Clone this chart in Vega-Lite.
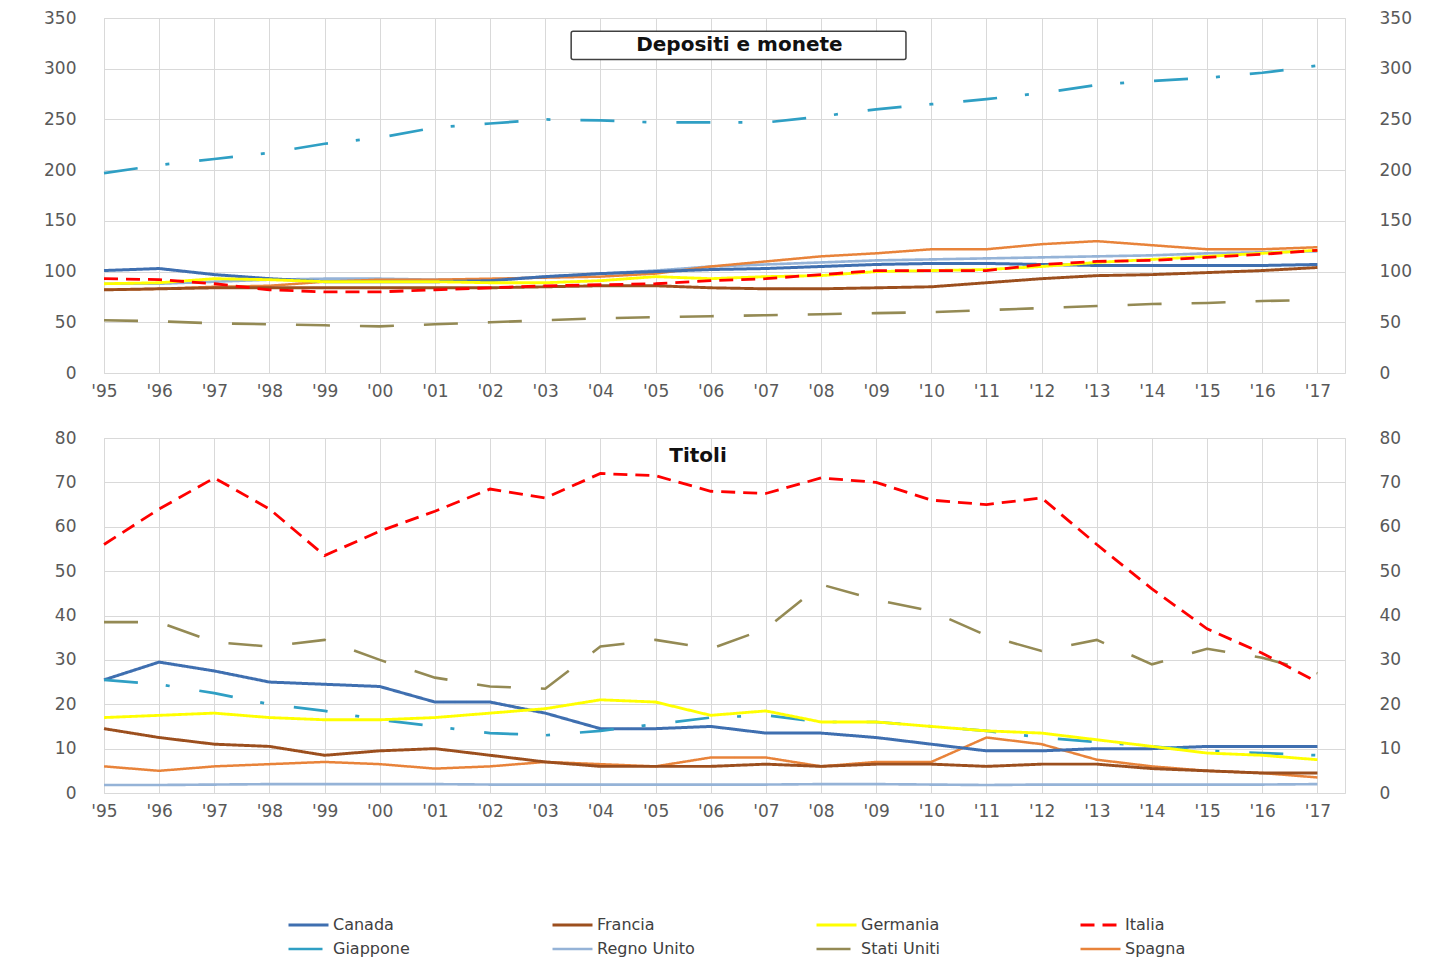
{
  "$schema": "https://vega.github.io/schema/vega-lite/v6.json",
  "background": "white",
  "padding": {"left": 43, "top": 8, "right": 5, "bottom": 0},
  "datasets": {
    "dep": [
      {"Anno": 1995, "Canada": 101, "Francia": 82, "Germania": 88, "Italia": 93, "Giappone": 197, "Regno Unito": 88, "Stati Uniti": 52, "Spagna": 82},
      {"Anno": 1996, "Canada": 103, "Francia": 83, "Germania": 89, "Italia": 92, "Giappone": 205, "Regno Unito": 88, "Stati Uniti": 51, "Spagna": 83},
      {"Anno": 1997, "Canada": 97, "Francia": 84, "Germania": 93, "Italia": 88, "Giappone": 211, "Regno Unito": 90, "Stati Uniti": 49, "Spagna": 85},
      {"Anno": 1998, "Canada": 93, "Francia": 84, "Germania": 92, "Italia": 82, "Giappone": 217, "Regno Unito": 92, "Stati Uniti": 48, "Spagna": 86},
      {"Anno": 1999, "Canada": 90, "Francia": 84, "Germania": 90, "Italia": 80, "Giappone": 226, "Regno Unito": 93, "Stati Uniti": 47, "Spagna": 90},
      {"Anno": 2000, "Canada": 90, "Francia": 84, "Germania": 90, "Italia": 80, "Giappone": 232, "Regno Unito": 93, "Stati Uniti": 46, "Spagna": 92},
      {"Anno": 2001, "Canada": 90, "Francia": 84, "Germania": 90, "Italia": 82, "Giappone": 242, "Regno Unito": 92, "Stati Uniti": 48, "Spagna": 92},
      {"Anno": 2002, "Canada": 91, "Francia": 84, "Germania": 89, "Italia": 84, "Giappone": 246, "Regno Unito": 92, "Stati Uniti": 50, "Spagna": 93},
      {"Anno": 2003, "Canada": 95, "Francia": 85, "Germania": 89, "Italia": 86, "Giappone": 250, "Regno Unito": 95, "Stati Uniti": 52, "Spagna": 94},
      {"Anno": 2004, "Canada": 98, "Francia": 86, "Germania": 91, "Italia": 87, "Giappone": 249, "Regno Unito": 98, "Stati Uniti": 54, "Spagna": 95},
      {"Anno": 2005, "Canada": 100, "Francia": 86, "Germania": 95, "Italia": 88, "Giappone": 247, "Regno Unito": 101, "Stati Uniti": 55, "Spagna": 98},
      {"Anno": 2006, "Canada": 102, "Francia": 84, "Germania": 93, "Italia": 91, "Giappone": 247, "Regno Unito": 105, "Stati Uniti": 56, "Spagna": 105},
      {"Anno": 2007, "Canada": 103, "Francia": 83, "Germania": 95, "Italia": 93, "Giappone": 247, "Regno Unito": 107, "Stati Uniti": 57, "Spagna": 110},
      {"Anno": 2008, "Canada": 105, "Francia": 83, "Germania": 96, "Italia": 97, "Giappone": 253, "Regno Unito": 109, "Stati Uniti": 58, "Spagna": 115},
      {"Anno": 2009, "Canada": 107, "Francia": 84, "Germania": 100, "Italia": 101, "Giappone": 260, "Regno Unito": 111, "Stati Uniti": 59, "Spagna": 118},
      {"Anno": 2010, "Canada": 108, "Francia": 85, "Germania": 101, "Italia": 101, "Giappone": 265, "Regno Unito": 112, "Stati Uniti": 60, "Spagna": 122},
      {"Anno": 2011, "Canada": 108, "Francia": 89, "Germania": 102, "Italia": 101, "Giappone": 270, "Regno Unito": 113, "Stati Uniti": 62, "Spagna": 122},
      {"Anno": 2012, "Canada": 107, "Francia": 93, "Germania": 105, "Italia": 107, "Giappone": 276, "Regno Unito": 114, "Stati Uniti": 64, "Spagna": 127},
      {"Anno": 2013, "Canada": 106, "Francia": 96, "Germania": 109, "Italia": 110, "Giappone": 284, "Regno Unito": 115, "Stati Uniti": 66, "Spagna": 130},
      {"Anno": 2014, "Canada": 106, "Francia": 97, "Germania": 112, "Italia": 111, "Giappone": 288, "Regno Unito": 116, "Stati Uniti": 68, "Spagna": 126},
      {"Anno": 2015, "Canada": 106, "Francia": 99, "Germania": 115, "Italia": 114, "Giappone": 291, "Regno Unito": 118, "Stati Uniti": 69, "Spagna": 122},
      {"Anno": 2016, "Canada": 106, "Francia": 101, "Germania": 118, "Italia": 117, "Giappone": 296, "Regno Unito": 119, "Stati Uniti": 71, "Spagna": 122},
      {"Anno": 2017, "Canada": 107, "Francia": 104, "Germania": 121, "Italia": 121, "Giappone": 303, "Regno Unito": 120, "Stati Uniti": 72, "Spagna": 124}
    ],
    "tit": [
      {"Anno": 1995, "Canada": 25.5, "Francia": 14.5, "Germania": 17, "Italia": 56, "Giappone": 25.5, "Regno Unito": 1.8, "Stati Uniti": 38.5, "Spagna": 6},
      {"Anno": 1996, "Canada": 29.5, "Francia": 12.5, "Germania": 17.5, "Italia": 64, "Giappone": 24.5, "Regno Unito": 1.8, "Stati Uniti": 38.5, "Spagna": 5},
      {"Anno": 1997, "Canada": 27.5, "Francia": 11, "Germania": 18, "Italia": 71, "Giappone": 22.5, "Regno Unito": 1.9, "Stati Uniti": 34, "Spagna": 6},
      {"Anno": 1998, "Canada": 25, "Francia": 10.5, "Germania": 17, "Italia": 64, "Giappone": 20, "Regno Unito": 2, "Stati Uniti": 33, "Spagna": 6.5},
      {"Anno": 1999, "Canada": 24.5, "Francia": 8.5, "Germania": 16.5, "Italia": 53.5, "Giappone": 18.5, "Regno Unito": 2, "Stati Uniti": 34.5, "Spagna": 7},
      {"Anno": 2000, "Canada": 24, "Francia": 9.5, "Germania": 16.5, "Italia": 59, "Giappone": 16.5, "Regno Unito": 2, "Stati Uniti": 30, "Spagna": 6.5},
      {"Anno": 2001, "Canada": 20.5, "Francia": 10, "Germania": 17, "Italia": 63.5, "Giappone": 15, "Regno Unito": 2, "Stati Uniti": 26, "Spagna": 5.5},
      {"Anno": 2002, "Canada": 20.5, "Francia": 8.5, "Germania": 18, "Italia": 68.5, "Giappone": 13.5, "Regno Unito": 1.9, "Stati Uniti": 24, "Spagna": 6},
      {"Anno": 2003, "Canada": 18, "Francia": 7, "Germania": 19, "Italia": 66.5, "Giappone": 13, "Regno Unito": 1.9, "Stati Uniti": 23.5, "Spagna": 7},
      {"Anno": 2004, "Canada": 14.5, "Francia": 6, "Germania": 21, "Italia": 72, "Giappone": 14, "Regno Unito": 1.9, "Stati Uniti": 33, "Spagna": 6.5},
      {"Anno": 2005, "Canada": 14.5, "Francia": 6, "Germania": 20.5, "Italia": 71.5, "Giappone": 15.5, "Regno Unito": 1.9, "Stati Uniti": 34.5, "Spagna": 6},
      {"Anno": 2006, "Canada": 15, "Francia": 6, "Germania": 17.5, "Italia": 68, "Giappone": 17, "Regno Unito": 1.9, "Stati Uniti": 32.5, "Spagna": 8},
      {"Anno": 2007, "Canada": 13.5, "Francia": 6.5, "Germania": 18.5, "Italia": 67.5, "Giappone": 17.5, "Regno Unito": 1.9, "Stati Uniti": 37, "Spagna": 8},
      {"Anno": 2008, "Canada": 13.5, "Francia": 6, "Germania": 16, "Italia": 71, "Giappone": 16, "Regno Unito": 2, "Stati Uniti": 47, "Spagna": 6},
      {"Anno": 2009, "Canada": 12.5, "Francia": 6.5, "Germania": 16, "Italia": 70, "Giappone": 16, "Regno Unito": 2, "Stati Uniti": 43.5, "Spagna": 7},
      {"Anno": 2010, "Canada": 11, "Francia": 6.5, "Germania": 15, "Italia": 66, "Giappone": 15, "Regno Unito": 1.9, "Stati Uniti": 41, "Spagna": 7},
      {"Anno": 2011, "Canada": 9.5, "Francia": 6, "Germania": 14, "Italia": 65, "Giappone": 14, "Regno Unito": 1.8, "Stati Uniti": 35.5, "Spagna": 12.5},
      {"Anno": 2012, "Canada": 9.5, "Francia": 6.5, "Germania": 13.5, "Italia": 66.5, "Giappone": 12.5, "Regno Unito": 1.9, "Stati Uniti": 32, "Spagna": 11},
      {"Anno": 2013, "Canada": 10, "Francia": 6.5, "Germania": 12, "Italia": 56, "Giappone": 11.5, "Regno Unito": 1.9, "Stati Uniti": 34.5, "Spagna": 7.5},
      {"Anno": 2014, "Canada": 10, "Francia": 5.5, "Germania": 10.5, "Italia": 46, "Giappone": 10.5, "Regno Unito": 1.9, "Stati Uniti": 29, "Spagna": 6},
      {"Anno": 2015, "Canada": 10.5, "Francia": 5, "Germania": 9, "Italia": 37, "Giappone": 9.5, "Regno Unito": 1.9, "Stati Uniti": 32.5, "Spagna": 5},
      {"Anno": 2016, "Canada": 10.5, "Francia": 4.5, "Germania": 8.5, "Italia": 31.5, "Giappone": 9, "Regno Unito": 1.9, "Stati Uniti": 30.5, "Spagna": 4.5},
      {"Anno": 2017, "Canada": 10.5, "Francia": 4.5, "Germania": 7.5, "Italia": 25, "Giappone": 8.5, "Regno Unito": 2, "Stati Uniti": 27, "Spagna": 3.5}
    ]
  },
  "config": {
    "view": {"stroke": "#D9D9D9"},
    "axis": {
      "labelFont": "DejaVu Sans",
      "labelFontSize": 17,
      "labelColor": "#595959",
      "gridColor": "#D9D9D9",
      "gridWidth": 1,
      "domain": false,
      "ticks": false,
      "title": null,
      "labelFlush": false,
      "labelOverlap": false
    },
    "legend": {
      "orient": "none",
      "legendX": 183,
      "legendY": 898,
      "direction": "horizontal",
      "columns": 4,
      "gridAlign": "all",
      "columnPadding": 120,
      "rowPadding": 6,
      "clipHeight": 18,
      "padding": 0,
      "symbolType": "stroke",
      "symbolSize": 1600,
      "labelFont": "DejaVu Sans",
      "labelFontSize": 16,
      "labelColor": "#404040",
      "labelOffset": 3
    }
  },
  "spacing": 28,
  "vconcat": [
    {
      "width": 1241,
      "height": 355,
      "layer": [
        {
          "data": {"name": "dep"},
          "transform": [{"fold": ["Regno Unito", "Spagna", "Francia", "Canada", "Stati Uniti", "Giappone", "Germania", "Italia"], "as": ["Paese", "Valore"]}],
          "mark": {"type": "line", "strokeCap": "butt"},
          "encoding": {
            "x": {"field": "Anno", "type": "quantitative", "scale": {"domain": [1995, 2017.5], "nice": false, "zero": false},
                  "axis": {"values": [1995,1996,1997,1998,1999,2000,2001,2002,2003,2004,2005,2006,2007,2008,2009,2010,2011,2012,2013,2014,2015,2016,2017], "labelExpr": "\"'\" + substring(toString(datum.value), 2, 4)", "labelPadding": 10, "grid": true}},
            "y": {"field": "Valore", "type": "quantitative", "scale": {"domain": [0, 350], "nice": false},
                  "axis": {"orient": "left", "values": [0,50,100,150,200,250,300,350], "labelPadding": 28, "grid": true}},
            "color": {"field": "Paese", "type": "nominal", "title": null,
                      "scale": {"domain": ["Canada","Francia","Germania","Italia","Giappone","Regno Unito","Stati Uniti","Spagna"],
                                "range": ["#3F6FB0","#9C4F1E","#FFFF00","#FF0000","#2F9FC4","#95B3D7","#948A54","#E8833A"]}},
            "strokeDash": {"field": "Paese", "type": "nominal", "title": null,
                      "scale": {"domain": ["Canada","Francia","Germania","Italia","Giappone","Regno Unito","Stati Uniti","Spagna"],
                                "range": [[1,0],[1,0],[1,0],[14,8],[34,28,4,30],[1,0],[34,30],[1,0]]}},
            "strokeWidth": {"field": "Paese", "type": "nominal", "title": null,
                      "scale": {"domain": ["Canada","Francia","Germania","Italia","Giappone","Regno Unito","Stati Uniti","Spagna"],
                                "range": [3, 2.5, 4.5, 5, 3, 3, 3.5, 2.5]}}
          }
        },
        {
          "data": {"name": "dep"},
          "mark": {"type": "line", "opacity": 0},
          "encoding": {
            "x": {"field": "Anno", "type": "quantitative"},
            "y": {"field": "Canada", "type": "quantitative", "axis": {"orient": "right", "values": [0,50,100,150,200,250,300,350], "labelPadding": 34, "grid": false}}
          }
        },
        {
          "data": {"values": [{}]},
          "mark": {"type": "rect", "fill": "white", "stroke": "#404040", "strokeWidth": 1.5, "cornerRadius": 2},
          "encoding": {
            "x": {"datum": 2003.47, "type": "quantitative"},
            "x2": {"datum": 2009.54},
            "y": {"datum": 337, "type": "quantitative", "axis": null},
            "y2": {"datum": 309}
          }
        },
        {
          "data": {"values": [{}]},
          "mark": {"type": "text", "text": "Depositi e monete", "font": "DejaVu Sans", "fontWeight": "bold", "fontSize": 20, "color": "#111111", "align": "center", "baseline": "middle"},
          "encoding": {
            "x": {"datum": 2006.52, "type": "quantitative"},
            "y": {"datum": 323, "type": "quantitative", "axis": null}
          }
        }
      ],
      "resolve": {"axis": {"y": "independent"}}
    },
    {
      "width": 1241,
      "height": 355,
      "layer": [
        {
          "data": {"name": "tit"},
          "transform": [{"fold": ["Regno Unito", "Spagna", "Francia", "Canada", "Stati Uniti", "Giappone", "Germania", "Italia"], "as": ["Paese", "Valore"]}],
          "mark": {"type": "line", "strokeCap": "butt"},
          "encoding": {
            "x": {"field": "Anno", "type": "quantitative", "scale": {"domain": [1995, 2017.5], "nice": false, "zero": false},
                  "axis": {"values": [1995,1996,1997,1998,1999,2000,2001,2002,2003,2004,2005,2006,2007,2008,2009,2010,2011,2012,2013,2014,2015,2016,2017], "labelExpr": "\"'\" + substring(toString(datum.value), 2, 4)", "labelPadding": 10, "grid": true}},
            "y": {"field": "Valore", "type": "quantitative", "scale": {"domain": [0, 80], "nice": false},
                  "axis": {"orient": "left", "values": [0,10,20,30,40,50,60,70,80], "labelPadding": 28, "grid": true}},
            "color": {"field": "Paese", "type": "nominal", "title": null,
                      "scale": {"domain": ["Canada","Francia","Germania","Italia","Giappone","Regno Unito","Stati Uniti","Spagna"],
                                "range": ["#3F6FB0","#9C4F1E","#FFFF00","#FF0000","#2F9FC4","#95B3D7","#948A54","#E8833A"]}},
            "strokeDash": {"field": "Paese", "type": "nominal", "title": null,
                      "scale": {"domain": ["Canada","Francia","Germania","Italia","Giappone","Regno Unito","Stati Uniti","Spagna"],
                                "range": [[1,0],[1,0],[1,0],[14,8],[34,28,4,30],[1,0],[34,30],[1,0]]}},
            "strokeWidth": {"field": "Paese", "type": "nominal", "title": null,
                      "scale": {"domain": ["Canada","Francia","Germania","Italia","Giappone","Regno Unito","Stati Uniti","Spagna"],
                                "range": [3, 2.5, 4.5, 5, 3, 3, 3.5, 2.5]}}
          }
        },
        {
          "data": {"name": "tit"},
          "mark": {"type": "line", "opacity": 0},
          "encoding": {
            "x": {"field": "Anno", "type": "quantitative"},
            "y": {"field": "Canada", "type": "quantitative", "axis": {"orient": "right", "values": [0,10,20,30,40,50,60,70,80], "labelPadding": 34, "grid": false}}
          }
        },
        {
          "data": {"values": [{}]},
          "mark": {"type": "text", "text": "Titoli", "font": "DejaVu Sans", "fontWeight": "bold", "fontSize": 20, "color": "#111111", "align": "center", "baseline": "middle"},
          "encoding": {
            "x": {"datum": 2005.77, "type": "quantitative"},
            "y": {"datum": 75.9, "type": "quantitative", "axis": null}
          }
        }
      ],
      "resolve": {"axis": {"y": "independent"}}
    }
  ]
}
